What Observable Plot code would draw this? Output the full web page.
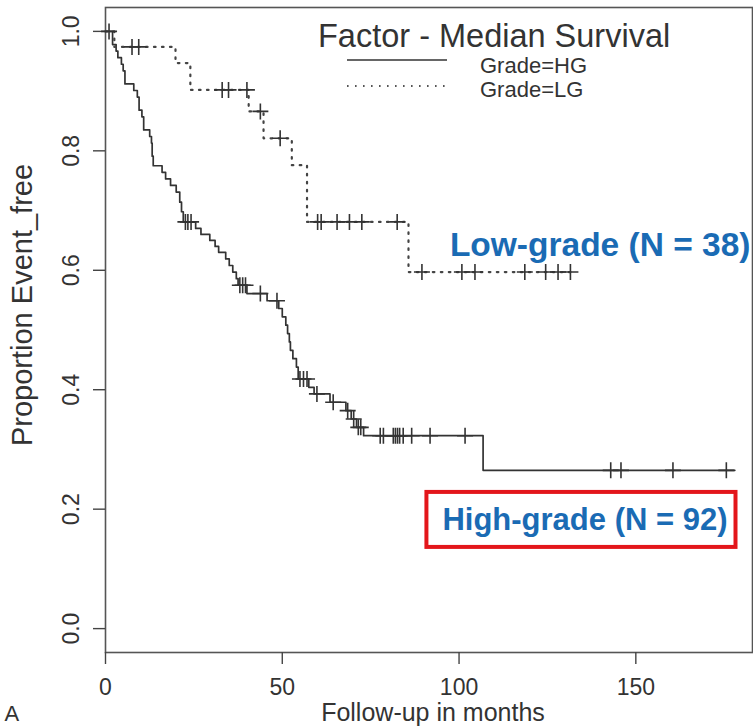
<!DOCTYPE html>
<html>
<head>
<meta charset="utf-8">
<script src="https://cdn.jsdelivr.net/npm/d3@7"></script>
<script src="https://cdn.jsdelivr.net/npm/@observablehq/plot@0.6"></script>
<style>
  html, body { margin: 0; padding: 0; background: #fff; }
  #chart { width: 753px; height: 728px; }
</style>
</head>
<body>
<div id="chart"></div>
<script>
// Kaplan–Meier estimate, high-grade arm: step times (months) and survival after each step
const hgTime = [0, 2, 3, 3.5, 4.5, 5, 5.5, 8, 9, 9.5, 10.3, 10.8, 12.5, 13, 13.2, 13.5, 16, 17, 18.4, 20,
  21, 21.5, 22, 25.5, 27, 29.5, 31, 32, 34, 35, 36, 37, 37.5, 40, 45.7, 49, 50, 51, 51.5, 52,
  52.3, 53, 54, 54.5, 57.5, 59, 63.5, 68, 69.5, 71, 73, 106.8];
const hgSurv = [1.000, 0.978, 0.967, 0.956, 0.945, 0.934, 0.912, 0.901, 0.890, 0.868, 0.857, 0.835, 0.824, 0.813, 0.791, 0.775, 0.764, 0.753, 0.742, 0.731,
  0.714, 0.698, 0.681, 0.670, 0.660, 0.650, 0.640, 0.630, 0.619, 0.608, 0.597, 0.586, 0.575, 0.561, 0.549, 0.536, 0.522, 0.508, 0.494, 0.480,
  0.466, 0.452, 0.438, 0.418, 0.404, 0.393, 0.379, 0.365, 0.351, 0.337, 0.323, 0.265];
const hgCensored = [1, 22.6, 23.3, 24.2, 38, 38.8, 39.6, 43.8, 48.5, 55, 56, 57, 59.8, 64.4, 68.5, 70.2, 71.5, 72.2,
  77.7, 78.6, 81.4, 82, 82.6, 83.2, 84.2, 86.6, 91.8, 101.7, 142.9, 145.8, 160.5, 175.6];
const hgLastFollowUp = 178;

// Kaplan–Meier estimate, low-grade arm
const lgTime = [0, 2.5, 19.8, 24, 40.5, 44.7, 52.7, 57, 85.7];
const lgSurv = [1.000, 0.974, 0.947, 0.902, 0.866, 0.821, 0.776, 0.681, 0.597];
const lgCensored = [7.5, 9.4, 33, 34.8, 40, 43.8, 49.4, 60, 61, 65.5, 69, 72.5, 82.5,
  89.5, 100.8, 104.5, 118.6, 124.5, 128, 131.5];
const lgLastFollowUp = 132;

// Axis ticks
const xTicks = [0, 50, 100, 150];
const yTicks = [0, 0.2, 0.4, 0.6, 0.8, 1.0];

// Text
const yLabel = "Proportion Event_free";
const xLabel = "Follow-up in months";
const panelTag = "A";
const legendTitle = "Factor - Median Survival";
const legendEntries = ["Grade=HG", "Grade=LG"];
const lgNote = "Low-grade (N = 38)";
const hgNote = "High-grade (N = 92)";

// Helpers: step rows for a curve, and survival on the curve at a given time
function stepRows(times, surv, end) {
  const rows = times.map((t, i) => ({t, s: surv[i]}));
  rows.push({t: end, s: surv[surv.length - 1]});
  return rows;
}
function survAt(times, surv, t) {
  let s = surv[0];
  for (let i = 0; i < times.length; i++) if (times[i] <= t) s = surv[i];
  return s;
}
const hgRows = stepRows(hgTime, hgSurv, hgLastFollowUp);
const lgRows = stepRows(lgTime, lgSurv, lgLastFollowUp);
const hgMarks = hgCensored.map(t => ({t, s: survAt(hgTime, hgSurv, t)}));
const lgMarks = lgCensored.map(t => ({t, s: survAt(lgTime, lgSurv, t)}));

// Thin "+" used for censored observations
const plusSymbol = {
  draw(ctx, size) {
    const r = Math.sqrt(size / Math.PI);
    ctx.moveTo(-r, 0); ctx.lineTo(r, 0);
    ctx.moveTo(0, -r); ctx.lineTo(0, r);
  }
};

const font = "'Liberation Sans', Arial, Helvetica, sans-serif";
const ink = "#333";
const blue = "#1a6bb4";

const chart = Plot.plot({
  width: 753,
  height: 728,
  marginLeft: 105,
  marginRight: 1,
  marginTop: 7,
  marginBottom: 76,
  x: {domain: [0, 183]},
  y: {domain: [-0.04, 1.04]},
  style: {fontFamily: font, color: ink, background: "#fff", overflow: "visible"},
  marks: [
    Plot.frame({stroke: "#555", strokeWidth: 1.6}),
    Plot.axisX({ticks: xTicks, tickSize: 12, tickPadding: 14, fontSize: 23, label: null, stroke: "#444", strokeWidth: 1.4}),
    Plot.axisY({ticks: yTicks, tickFormat: d3.format(".1f"), tickSize: 12, tickPadding: 15, fontSize: 23,
      tickRotate: -90, label: null, stroke: "#444", strokeWidth: 1.4}),
    Plot.line(hgRows, {x: "t", y: "s", curve: "step-after", stroke: ink, strokeWidth: 1.7}),
    Plot.line(lgRows, {x: "t", y: "s", curve: "step-after", stroke: "#444", strokeWidth: 2.2, strokeDasharray: "1.6,6.4"}),
    Plot.dot(hgMarks, {x: "t", y: "s", symbol: plusSymbol, r: 8, stroke: ink, strokeWidth: 1.6}),
    Plot.dot(lgMarks, {x: "t", y: "s", symbol: plusSymbol, r: 8, stroke: ink, strokeWidth: 1.6}),
    Plot.text([yLabel], {text: d => d, frameAnchor: "left", textAnchor: "middle", rotate: -90, dx: -83, dy: -25, fontSize: 29, fill: ink}),
    Plot.text([xLabel], {text: d => d, frameAnchor: "bottom", dx: 4, dy: 68, fontSize: 25, fill: ink}),
    Plot.text([panelTag], {text: d => d, frameAnchor: "bottom-left", textAnchor: "start", dx: -101, dy: 68, fontSize: 22, fill: ink}),
    Plot.text([lgNote], {text: d => d, frameAnchor: "right", textAnchor: "end", dx: -2, dy: -85, fontSize: 33.5, fontWeight: "bold", fill: blue}),
    Plot.text([hgNote], {text: d => d, frameAnchor: "right", textAnchor: "end", dx: -25, dy: 190, fontSize: 31, fontWeight: "bold", fill: blue, className: "hg-note"})
  ]
});

document.getElementById("chart").append(chart);

// Legend block: title, line samples and entry labels
const svg = d3.select(chart);
const legend = svg.append("g").attr("font-family", font).attr("fill", ink).attr("text-anchor", "start");
legend.append("text").attr("x", 318).attr("y", 36).attr("dy", "0.35em")
  .attr("font-size", 32.5).text(legendTitle);
const rowsY = [65, 89];
legend.append("line").attr("x1", 347).attr("x2", 447).attr("y1", rowsY[0] - 5).attr("y2", rowsY[0] - 5)
  .attr("stroke", ink).attr("stroke-width", 1.7);
legend.append("line").attr("x1", 347).attr("x2", 447).attr("y1", rowsY[1] - 3).attr("y2", rowsY[1] - 3)
  .attr("stroke", "#555").attr("stroke-width", 2.2).attr("stroke-dasharray", "1.6,6.4");
legendEntries.forEach((label, i) => {
  legend.append("text").attr("x", 480).attr("y", rowsY[i]).attr("dy", "0.35em")
    .attr("font-size", 22).text(label);
});

// Red outline around the high-grade note
const noteNode = chart.querySelector(".hg-note text");
if (noteNode) {
  const b = noteNode.getBBox();
  const m = noteNode.getCTM();
  const x0 = b.x + (m ? m.e : 0), y0 = b.y + (m ? m.f : 0);
  svg.append("rect")
    .attr("x", x0 - 16).attr("y", y0 - 10)
    .attr("width", b.width + 24).attr("height", b.height + 20)
    .attr("fill", "none").attr("stroke", "#e3161b").attr("stroke-width", 4);
}
</script>
</body>
</html>
